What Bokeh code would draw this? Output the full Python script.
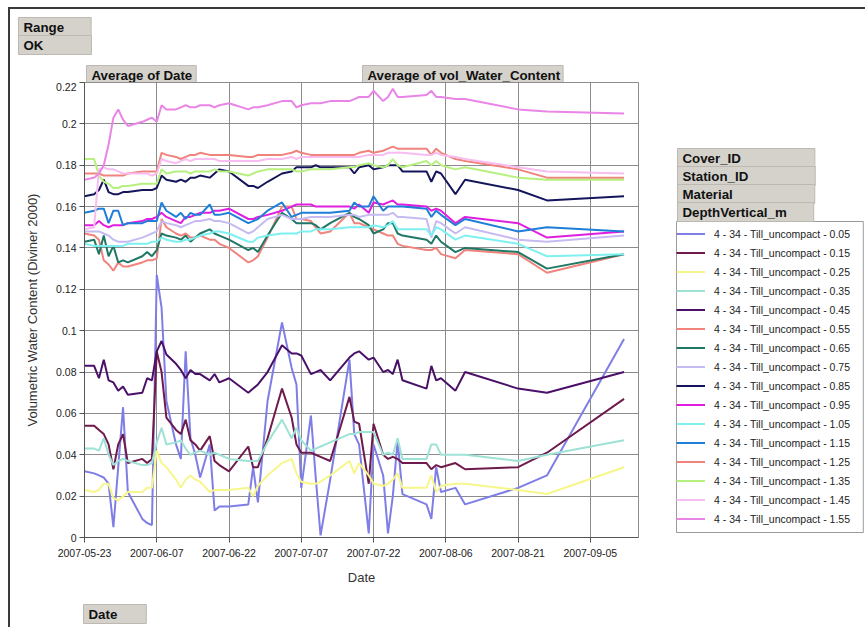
import pandas as pd
from bokeh.plotting import figure
from bokeh.layouts import column, row
from bokeh.models import (Range1d, FixedTicker, DatetimeTickFormatter, CustomJSTickFormatter,
                          Legend, LegendItem, Label)
from bokeh.embed import file_html
from bokeh.resources import INLINE

dates = [
    "2007-05-23", "2007-05-25", "2007-05-26", "2007-05-27", "2007-05-28", "2007-05-29", "2007-05-30", "2007-05-31",
    "2007-06-01", "2007-06-04", "2007-06-05", "2007-06-06", "2007-06-07", "2007-06-08", "2007-06-09", "2007-06-11",
    "2007-06-12", "2007-06-13", "2007-06-14", "2007-06-15", "2007-06-16", "2007-06-18", "2007-06-19", "2007-06-20",
    "2007-06-22", "2007-06-26", "2007-06-27", "2007-06-28", "2007-06-30", "2007-07-03", "2007-07-05", "2007-07-06",
    "2007-07-07", "2007-07-09", "2007-07-10", "2007-07-11", "2007-07-13", "2007-07-17", "2007-07-18", "2007-07-19",
    "2007-07-21", "2007-07-22", "2007-07-24", "2007-07-25", "2007-07-26", "2007-07-27", "2007-07-28", "2007-08-02",
    "2007-08-03", "2007-08-04", "2007-08-05", "2007-08-08", "2007-08-10", "2007-08-21", "2007-08-27", "2007-09-12",
]

d005 = [.032, .031, .030, .029, .026, .005, .034, .063,
        .022, .009, .007, .006, .127, .111, .066, .045,
        .038, .090, .048, .040, .029, .045, .013, .015,
        .015, .016, .034, .017, .066, .104, .082, .074,
        .024, .059, .029, .001, .028, .086, .050, .045,
        .002, .045, .030, .002, .020, .047, .021, .016,
        .009, .034, .022, .024, .016, .024, .030, .096]
d015 = [.054, .054, .052, .050, .045, .033, .045, .050,
        .036, .038, .036, .038, .090, .080, .058, .052,
        .050, .057, .047, .045, .042, .049, .037, .035,
        .032, .044, .034, .034, .048, .072, .058, .045,
        .041, .041, .040, .039, .037, .068, .056, .055,
        .026, .055, .040, .038, .039, .038, .036, .036,
        .033, .035, .034, .036, .033, .034, .041, .067]
d025 = [.023, .022, .023, .026, .026, .019, .018, .020,
        .022, .022, .024, .024, .042, .036, .034, .028,
        .024, .028, .030, .028, .027, .022, .023, .023,
        .023, .024, .020, .025, .030, .036, .038, .031,
        .027, .026, .026, .027, .030, .037, .031, .036,
        .030, .026, .025, .026, .028, .031, .024, .024,
        .030, .022, .025, .026, .026, .023, .021, .034]
d035 = [.043, .043, .042, .048, .040, .035, .037, .038,
        .037, .035, .035, .036, .046, .053, .045, .046,
        .047, .043, .040, .041, .042, .040, .041, .040,
        .038, .037, .037, .037, .046, .057, .048, .053,
        .047, .042, .043, .044, .046, .050, .050, .051,
        .051, .051, .040, .041, .040, .048, .038, .038,
        .045, .045, .040, .040, .040, .037, .040, .047]
d045 = [.083, .083, .077, .086, .076, .075, .071, .073,
        .069, .070, .077, .076, .090, .095, .0885, .084,
        .081, .077, .081, .079, .079, .076, .079, .075,
        .077, .070, .072, .074, .080, .093, .089, .089,
        .088, .079, .080, .081, .076, .087, .089, .090,
        .086, .087, .080, .081, .079, .086, .076, .072,
        .083, .076, .077, .071, .080, .072, .070, .080]
d055 = [.147, .146, .144, .134, .132, .129, .133, .131,
        .131, .133, .134, .134, .135, .154, .150, .147,
        .146, .147, .145, .145, .146, .144, .144, .142,
        .140, .133, .134, .136, .145, .160, .160, .154,
        .154, .153, .150, .147, .148, .157, .152, .152,
        .150, .149, .147, .146, .146, .142, .141, .139,
        .139, .140, .137, .135, .139, .137, .128, .137]
d065 = [.143, .144, .137, .146, .136, .141, .133, .134,
        .133, .136, .138, .136, .139, .147, .146, .145,
        .144, .146, .143, .145, .147, .149, .147, .146,
        .144, .139, .140, .138, .146, .157, .154, .152,
        .152, .152, .151, .149, .152, .157, .155, .154,
        .151, .147, .149, .152, .152, .147, .146, .144,
        .142, .146, .143, .138, .140, .138, .130, .137]
d075 = [.148, .148, .148, .147, .146, .144, .143, .143,
        .143, .145, .146, .147, .148, .153, .152, .151,
        .150, .151, .152, .153, .153, .154, .153, .153,
        .152, .147, .148, .150, .154, .156, .154, .154,
        .154, .155, .155, .155, .155, .156, .156, .155,
        .156, .156, .156, .156, .157, .155, .155, .154,
        .145, .153, .152, .147, .150, .144, .143, .146]
d085 = [.165, .166, .168, .173, .167, .166, .166, .167,
        .167, .168, .168, .168, .169, .175, .173, .172,
        .173, .172, .174, .174, .175, .174, .176, .178,
        .177, .170, .170, .169, .172, .176, .177, .179,
        .179, .179, .180, .179, .179, .179, .176, .179,
        .180, .178, .179, .180, .180, .180, .177, .177,
        .172, .177, .176, .166, .173, .168, .163, .165]
d095 = [.151, .151, .153, .151, .150, .151, .151, .151,
        .152, .153, .154, .154, .155, .157, .155, .153,
        .152, .155, .155, .156, .157, .157, .158, .158,
        .159, .154, .154, .155, .156, .158, .160, .161,
        .161, .161, .160, .160, .160, .160, .159, .161,
        .157, .162, .161, .162, .163, .161, .161, .160,
        .158, .159, .158, .152, .155, .152, .145, .148]
d105 = [.142, .141, .141, .141, .141, .141, .141, .141,
        .142, .142, .142, .143, .143, .145, .144, .143,
        .143, .144, .144, .145, .146, .147, .148, .148,
        .147, .143, .143, .145, .146, .147, .147, .147,
        .148, .148, .149, .149, .149, .150, .150, .150,
        .150, .151, .150, .151, .153, .149, .149, .149,
        .146, .150, .149, .144, .146, .142, .136, .137]
d115 = [.157, .158, .159, .159, .152, .158, .158, .151,
        .152, .152, .153, .153, .153, .162, .158, .155,
        .157, .154, .157, .156, .156, .161, .156, .156,
        .157, .152, .153, .154, .158, .162, .155, .156,
        .157, .157, .157, .157, .157, .158, .162, .160,
        .160, .165, .158, .160, .160, .160, .160, .159,
        .155, .158, .156, .151, .154, .148, .150, .148]
d125 = [.176, .176, .176, .175, .175, .175, .175, .175,
        .176, .177, .177, .177, .177, .186, .185, .184,
        .183, .184, .185, .185, .186, .185, .185, .185,
        .185, .184, .184, .185, .185, .185, .186, .187,
        .186, .185, .185, .185, .185, .185, .185, .186,
        .187, .186, .187, .188, .189, .188, .188, .188,
        .185, .188, .186, .183, .182, .178, .174, .174]
d135 = [.183, .183, .175, .172, .171, .169, .169, .170,
        .170, .171, .171, .171, .171, .178, .176, .177,
        .177, .177, .176, .177, .177, .177, .178, .177,
        .177, .175, .176, .177, .178, .178, .178, .177,
        .177, .178, .178, .178, .178, .179, .179, .180,
        .181, .180, .179, .180, .183, .180, .179, .182,
        .180, .182, .180, .178, .179, .174, .173, .173]
d145 = [.149, .150, .178, .179, .178, .178, .177, .176,
        .176, .176, .176, .175, .176, .183, .182, .181,
        .182, .183, .182, .183, .183, .183, .183, .182,
        .182, .182, .182, .182, .183, .183, .184, .183,
        .184, .184, .184, .184, .184, .184, .184, .184,
        .185, .185, .185, .186, .186, .186, .186, .185,
        .185, .186, .185, .184, .183, .179, .177, .176]
d155 = [.173, .174, .176, .180, .190, .203, .207, .202,
        .199, .201, .202, .203, .201, .209, .207, .207,
        .208, .209, .208, .208, .209, .209, .208, .209,
        .210, .207, .208, .208, .209, .211, .211, .208,
        .209, .210, .210, .210, .211, .211, .212, .213,
        .213, .216, .211, .213, .217, .213, .213, .214,
        .216, .213, .213, .212, .212, .207, .206, .205]

series = [d005, d015, d025, d035, d045, d055, d065, d075,
          d085, d095, d105, d115, d125, d135, d145, d155]
depths = ["0.05", "0.15", "0.25", "0.35", "0.45", "0.55", "0.65", "0.75",
          "0.85", "0.95", "1.05", "1.15", "1.25", "1.35", "1.45", "1.55"]
colors = ["#7E7EE6", "#6E1A4C", "#F6F68C", "#9EE2D6", "#4A1068", "#F0837C", "#1F7766", "#C6BAF2",
          "#15155C", "#E01EE0", "#7EF0F0", "#1F7ED8", "#F0837C", "#B6F07E", "#F7BDF0", "#E985E6"]
series_prefix = "4 - 34 - Till_uncompact - "

x_ticks = ["2007-05-23", "2007-06-07", "2007-06-22", "2007-07-07",
           "2007-07-22", "2007-08-06", "2007-08-21", "2007-09-05"]
y_ticks = [0, 0.02, 0.04, 0.06, 0.08, 0.1, 0.12, 0.14, 0.16, 0.18, 0.2, 0.22]
x_start, x_end = "2007-05-23", "2007-09-15"

FONT = "Liberation Sans"
# page geometry (px): whole block starts at (10, 9) after margin + border
TOTAL_W = 855
TOP_H = 73
MID_H = 518
BOT_H = 27
MAIN_W = 658
SIDE_W = TOTAL_W - MAIN_W

x = pd.to_datetime(dates)

# ---------- main chart ----------
p = figure(width=MAIN_W, height=MID_H, x_axis_type="datetime", output_backend="svg",
           toolbar_location=None,
           x_range=Range1d(pd.Timestamp(x_start), pd.Timestamp(x_end)),
           y_range=Range1d(0, 0.22),
           min_border_left=74, min_border_right=30, min_border_top=0, min_border_bottom=63)
p.background_fill_color = "white"
p.border_fill_color = "white"
p.outline_line_color = "#8c8c8c"
p.outline_line_width = 1

tick_ms = [int(pd.Timestamp(t).value // 10**6) for t in x_ticks]
p.xaxis.ticker = FixedTicker(ticks=tick_ms)
fmt = "%Y-%m-%d"
p.xaxis.formatter = DatetimeTickFormatter(microseconds=fmt, milliseconds=fmt, seconds=fmt,
                                          minsec=fmt, minutes=fmt, hourmin=fmt, hours=fmt,
                                          days=fmt, months=fmt, years=fmt)
p.yaxis.ticker = FixedTicker(ticks=y_ticks)
p.yaxis.formatter = CustomJSTickFormatter(code="return String(Number(tick.toFixed(2)));")

for ax in (p.xaxis[0], p.yaxis[0]):
    ax.axis_line_color = "#555555"
    ax.major_tick_line_color = "#555555"
    ax.major_tick_out = 5
    ax.major_tick_in = 0
    ax.minor_tick_line_color = None
    ax.major_label_text_font = FONT
    ax.major_label_text_font_size = "10.5px"
    ax.major_label_text_color = "#222222"
    ax.axis_label_text_font = FONT
    ax.axis_label_text_font_size = "13px"
    ax.axis_label_text_font_style = "normal"
    ax.axis_label_text_color = "#333333"
p.xaxis.axis_label = "Date"
p.yaxis.axis_label = "Volumetric Water Content (Diviner 2000)"
p.xaxis.major_label_standoff = 6
p.xaxis.axis_label_standoff = 10
p.yaxis.major_label_standoff = 3
p.yaxis.axis_label_standoff = 13

for g in (p.xgrid[0], p.ygrid[0]):
    g.grid_line_color = "#8c8c8c"
    g.grid_line_width = 1
p.xgrid.ticker = p.xaxis.ticker

for vals, col in zip(series, colors):
    p.line(x, vals, line_color=col, line_width=2)


def blank(w, h):
    f = figure(width=w, height=h, output_backend="svg", toolbar_location=None,
               x_range=Range1d(0, w), y_range=Range1d(0, h),
               x_axis_location=None, y_axis_location=None,
               min_border=0, min_border_left=0, min_border_right=0,
               min_border_top=0, min_border_bottom=0)
    f.grid.visible = False
    f.outline_line_color = None
    f.background_fill_color = "white"
    f.border_fill_color = "white"
    return f


TEXT_W = {"Range": 42, "OK": 21, "Average of Date": 102, "Average of vol_Water_Content": 195,
          "Cover_ID": 59, "Station_ID": 66, "Material": 51, "DepthVertical_m": 106, "Date": 30}


def header(fig, text, left, top, width, ox, oy, height=17):
    # padding order: (left, right, top, bottom)
    lab = Label(x=left - ox, y=top - oy + height / 2, x_units="canvas", y_units="canvas",
                text=text, level="overlay",
                text_font=FONT, text_font_style="bold", text_font_size="13.3px",
                text_color="#111111", text_align="left", text_baseline="middle",
                background_fill_color="#D5D2CC", border_line_color="#BDB9B2", border_line_width=1,
                padding=(5, max(width - 5 - TEXT_W[text], 2), 2, 2))
    fig.add_layout(lab)


# ---------- top strip ----------
top = blank(TOTAL_W, TOP_H)
header(top, "Range", 18, 18, 74, 10, 9)
header(top, "OK", 18, 36, 74, 10, 9)
header(top, "Average of Date", 86, 66, 111, 10, 9)
header(top, "Average of vol_Water_Content", 362, 66, 203, 10, 9)

# ---------- side panel with legend ----------
side = blank(SIDE_W, MID_H)
SX, SY = 10 + MAIN_W, 9 + TOP_H
# legend frame (white box with grey border) drawn behind the legend entries
frame_box = Label(x=676 - SX, y=(221 + 532) / 2 - SY, x_units="canvas", y_units="canvas",
                  text=" ", level="underlay", text_font=FONT, text_font_size="10px",
                  text_align="left", text_baseline="middle",
                  background_fill_color="white", border_line_color="#9a9a9a", border_line_width=1,
                  padding=(0, 184, 150, 150))
side.add_layout(frame_box)

items = []
for vals, dep, col in zip(series, depths, colors):
    r = side.line(x, vals, line_color=col, line_width=2, visible=False)
    items.append(LegendItem(label=series_prefix + dep, renderers=[r]))
legend = Legend(items=items, location=(8, 11), orientation="vertical",
                label_text_font=FONT, label_text_font_size="10.5px", label_text_color="#222222",
                glyph_width=29, glyph_height=15, label_height=15, label_standoff=9,
                spacing=4, padding=5, margin=0, inactive_fill_alpha=0,
                border_line_color=None, background_fill_alpha=0)
side.add_layout(legend)
header(side, "Cover_ID", 677, 149, 138, SX, SY)
header(side, "Station_ID", 677, 167, 138, SX, SY)
header(side, "Material", 677, 185, 138, SX, SY)
header(side, "DepthVertical_m", 677, 203, 138, SX, SY)

# ---------- bottom strip ----------
bottom = blank(TOTAL_W, BOT_H)
header(bottom, "Date", 83, 605, 64, 10, 9 + TOP_H + MID_H)

layout = column(top, row(p, side, spacing=0), bottom, spacing=0)
layout.styles = {"margin-left": "8px", "margin-top": "7px",
                 "border-left": "2px solid #3a3a3a", "border-top": "2px solid #3a3a3a"}

open("out.html", "w").write(file_html(layout, INLINE))
